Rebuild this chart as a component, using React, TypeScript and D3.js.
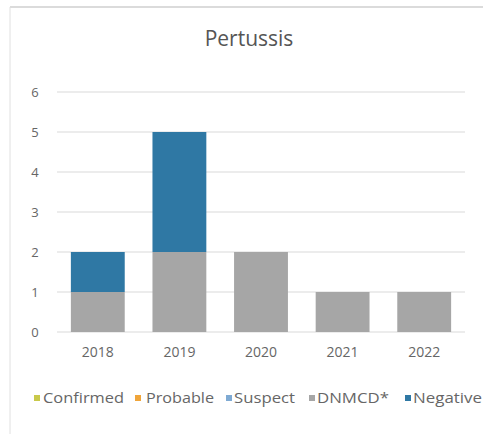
import React, { useEffect, useRef } from 'react'
import * as d3 from 'd3'

const years = ['2018', '2019', '2020', '2021', '2022']
const seriesNames = ['Confirmed', 'Probable', 'Suspect', 'DNMCD*', 'Negative']
const seriesColors = ['#c9c94a', '#f0a53a', '#7faad3', '#a6a6a6', '#2f78a4']
const confirmed = [0, 0, 0, 0, 0]
const probable = [0, 0, 0, 0, 0]
const suspect = [0, 0, 0, 0, 0]
const dnmcd = [1, 2, 2, 1, 1]
const negative = [1, 3, 0, 0, 0]
const yTicks = [0, 1, 2, 3, 4, 5, 6]

const W = 483
const H = 434

export default function App() {
    const svgRef = useRef<SVGSVGElement>(null)

    useEffect(() => {
        if (!svgRef.current) return
        const svg = d3.select(svgRef.current)
        svg.selectAll('*').remove()

        const font = "'Open Sans', 'Liberation Sans', sans-serif"

        // frame (scanned page edge)
        svg.append('line').attr('x1', 10).attr('x2', W).attr('y1', 7).attr('y2', 7)
            .style('stroke', '#b8b8b8').style('stroke-width', 1.2)
        svg.append('line').attr('x1', 10).attr('x2', 10).attr('y1', 7).attr('y2', H)
            .style('stroke', '#e0e0e0').style('stroke-width', 1)

        svg.append('text').attr('x', 249).attr('y', 46)
            .attr('text-anchor', 'middle')
            .style('font-family', font).style('font-size', '21px').style('fill', '#555')
            .text('Pertussis')

        const x = d3.scaleBand<string>().domain(years).range([57, 465]).paddingInner(0.34).paddingOuter(0.17)
        const y = d3.scaleLinear().domain([0, 6]).range([332, 92])

        const g = svg.append('g')
        g.selectAll('line.grid').data(yTicks).enter().append('line')
            .attr('class', 'grid')
            .attr('x1', 57).attr('x2', 465)
            .attr('y1', d => y(d)).attr('y2', d => y(d))
            .style('stroke', '#d9d9d9').style('stroke-width', 1)

        g.selectAll('text.ytick').data(yTicks).enter().append('text')
            .attr('class', 'ytick')
            .attr('x', 35).attr('y', d => y(d) + 5)
            .attr('text-anchor', 'middle')
            .style('font-family', font).style('font-size', '13px').style('fill', '#666')
            .text(d => d)

        const rows = years.map((yr, i) => ({
            year: yr,
            'Confirmed': confirmed[i],
            'Probable': probable[i],
            'Suspect': suspect[i],
            'DNMCD*': dnmcd[i],
            'Negative': negative[i],
        }))
        const stackOrder = ['DNMCD*', 'Negative', 'Confirmed', 'Probable', 'Suspect']
        const stacked = d3.stack<any>().keys(stackOrder)(rows)

        stacked.forEach(layer => {
            const color = seriesColors[seriesNames.indexOf(layer.key)]
            g.append('g').selectAll('rect').data(layer.filter(d => d[1] > d[0])).enter().append('rect')
                .attr('x', d => x(d.data.year)!)
                .attr('width', x.bandwidth())
                .attr('y', d => y(d[1]))
                .attr('height', d => y(d[0]) - y(d[1]))
                .style('fill', color)
        })

        g.selectAll('text.xtick').data(years).enter().append('text')
            .attr('class', 'xtick')
            .attr('x', d => x(d)! + x.bandwidth() / 2).attr('y', 357)
            .attr('text-anchor', 'middle')
            .style('font-family', font).style('font-size', '14px').style('fill', '#666')
            .text(d => d)

        // legend
        const legendMarkX = [34, 135, 226, 309, 405]
        const legendTextX = [43, 146, 234, 317, 413]
        const legendTextW = [81, 68, 61, 72, 69]
        const lg = svg.append('g')
        seriesNames.forEach((name, i) => {
            lg.append('rect').attr('x', legendMarkX[i]).attr('y', 395).attr('width', 6).attr('height', 6)
                .style('fill', seriesColors[i])
            lg.append('text').attr('x', legendTextX[i]).attr('y', 403)
                .attr('textLength', legendTextW[i]).attr('lengthAdjust', 'spacingAndGlyphs')
                .style('font-family', font).style('font-size', '14px').style('fill', '#666')
                .text(name)
        })
    }, [])

    return <svg ref={svgRef} width={W} height={H} style={{ position: 'absolute', left: 0, top: 0, background: '#fff' }} />
}
